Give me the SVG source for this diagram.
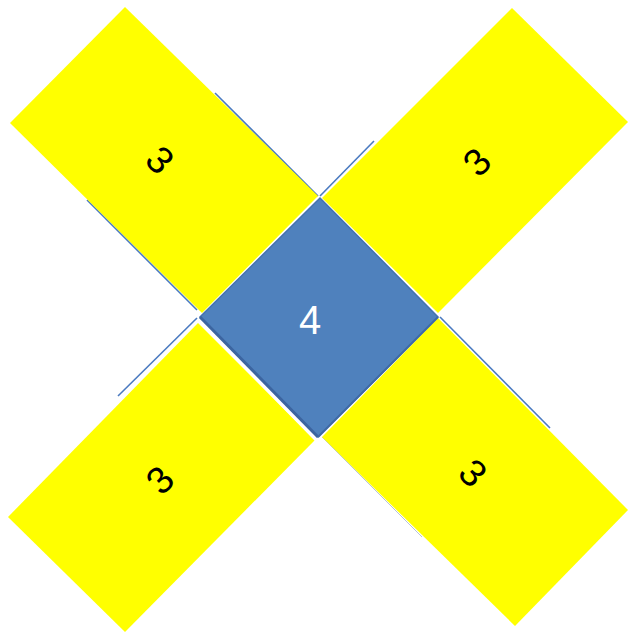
<svg xmlns="http://www.w3.org/2000/svg" width="628" height="632" viewBox="0 0 628 632">
<style>
.rect{fill:#ffff00;stroke:none}
.lbl{font-family:"Liberation Sans",Arial,sans-serif;font-size:38px;fill:#000;text-anchor:middle;dominant-baseline:central}
.ln{stroke:#4a7ac0;stroke-width:1.6;fill:none}
</style>
<rect width="628" height="632" fill="#ffffff"/>
<g id="connectors">
<line class="ln" x1="215" y1="93" x2="318" y2="196"/>
<line class="ln" x1="87" y1="200" x2="197" y2="310"/>
<line class="ln" x1="374" y1="141" x2="320" y2="196"/>
<line class="ln" x1="118" y1="396" x2="197" y2="318"/>
<line class="ln" x1="440" y1="317" x2="550" y2="428"/>
<line x1="322" y1="437" x2="422" y2="537" stroke="#b8c4d6" stroke-width="1"/>
</g>
<g id="rect-tl">
<polygon class="rect" points="10,123 125,7 318,196 202,313"/>
<text class="lbl" transform="translate(160,160) rotate(45)">3</text>
</g>
<g id="rect-tr">
<polygon class="rect" points="322,198 512,8 628,122 438,313"/>
<text class="lbl" transform="translate(477,162) rotate(-45)">3</text>
</g>
<g id="rect-bl">
<polygon class="rect" points="198,323 315,440 125,632 8,517"/>
<text class="lbl" transform="translate(160,480) rotate(-45)">3</text>
</g>
<g id="rect-br">
<polygon class="rect" points="438,318 628,510 515,626 322,437"/>
<text class="lbl" transform="translate(473,473) rotate(45)">3</text>
</g>
<g id="square">
<line x1="199" y1="320" x2="316" y2="440" stroke="#ffffff" stroke-width="3"/>
<polygon points="320,198 438,317 318,437 200,317" fill="#4f81bd" stroke="#4372b0" stroke-width="1.5"/>
<line x1="200" y1="317" x2="318" y2="437" stroke="#3c65a0" stroke-width="3"/>
<line x1="318" y1="437" x2="438" y2="317" stroke="#3f6aa6" stroke-width="2"/>
<text x="310" y="320" font-family="'Liberation Sans',Arial,sans-serif" font-size="40" fill="#ffffff" text-anchor="middle" dominant-baseline="central">4</text>
</g>
</svg>
